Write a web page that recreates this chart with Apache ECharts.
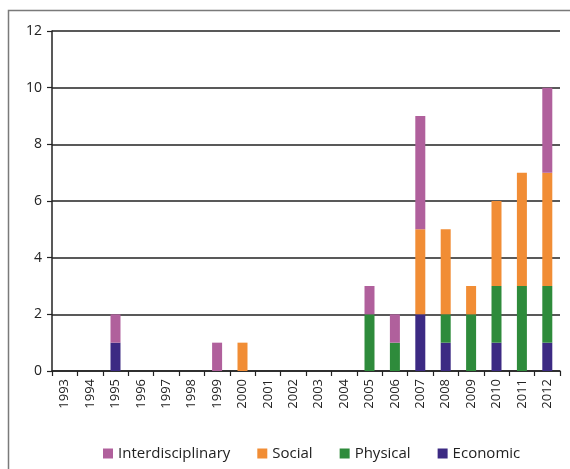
<!DOCTYPE html>
<html>
<head>
<meta charset="utf-8">
<script src="https://cdn.jsdelivr.net/npm/echarts@6/dist/echarts.min.js"></script>
<style>
html,body{margin:0;padding:0;background:#fff;}
#c{width:570px;height:469px;}
</style>
</head>
<body>
<div id="c"></div>
<script>
var years = ['1993','1994','1995','1996','1997','1998','1999','2000','2001','2002','2003','2004','2005','2006','2007','2008','2009','2010','2011','2012'];
var economic =          [0,0,1,0,0,0,0,0,0,0,0,0,0,0,2,1,0,1,0,1];
var physical =          [0,0,0,0,0,0,0,0,0,0,0,0,2,1,0,1,2,2,3,2];
var social =            [0,0,0,0,0,0,0,1,0,0,0,0,0,0,3,3,1,3,4,4];
var interdisciplinary = [0,0,1,0,0,0,1,0,0,0,0,0,1,1,4,0,0,0,0,3];
var yTicks = [0,2,4,6,8,10,12];

var chart = echarts.init(document.getElementById('c'));
function ser(name, data, color){
  return {name:name, type:'bar', stack:'s', data:data, barWidth:10,
    itemStyle:{color:color}, emphasis:{disabled:true}};
}
chart.setOption({
  animation:false,
  textStyle:{fontFamily:'Open Sans'},
  graphic:[{type:'rect', shape:{x:8.5,y:10.5,width:620,height:520},
    style:{fill:'none', stroke:'#7a7a7a', lineWidth:1.5}}],
  grid:{left:52,right:10,top:31,bottom:98},
  legend:{
    data:['Interdisciplinary','Social','Physical','Economic'],
    top:441, left:98, itemWidth:10, itemHeight:10, itemGap:27,
    icon:'rect',
    textStyle:{fontSize:15, color:'#222', fontFamily:'Open Sans'}
  },
  xAxis:{
    type:'category', data:years,
    axisLine:{lineStyle:{color:'#222', width:1.5}},
    axisTick:{show:true, length:5, alignWithLabel:false, lineStyle:{color:'#222', width:1.2}},
    axisLabel:{rotate:90, fontSize:13, color:'#222', margin:8, interval:0}
  },
  yAxis:{
    type:'value', min:0, max:12, interval:2,
    axisLine:{show:true, lineStyle:{color:'#222', width:1.5}},
    axisTick:{show:true, length:5, lineStyle:{color:'#222', width:1.2}},
    axisLabel:{fontSize:14, color:'#222', margin:10,
      formatter:function(v){return yTicks.indexOf(v)>=0? String(v):'';}},
    splitLine:{lineStyle:{color:'#222', width:1.5}}
  },
  series:[
    ser('Economic', economic, '#3c2a83'),
    ser('Physical', physical, '#2e8b3b'),
    ser('Social', social, '#f18d35'),
    ser('Interdisciplinary', interdisciplinary, '#b0609c')
  ]
});
</script>
</body>
</html>
